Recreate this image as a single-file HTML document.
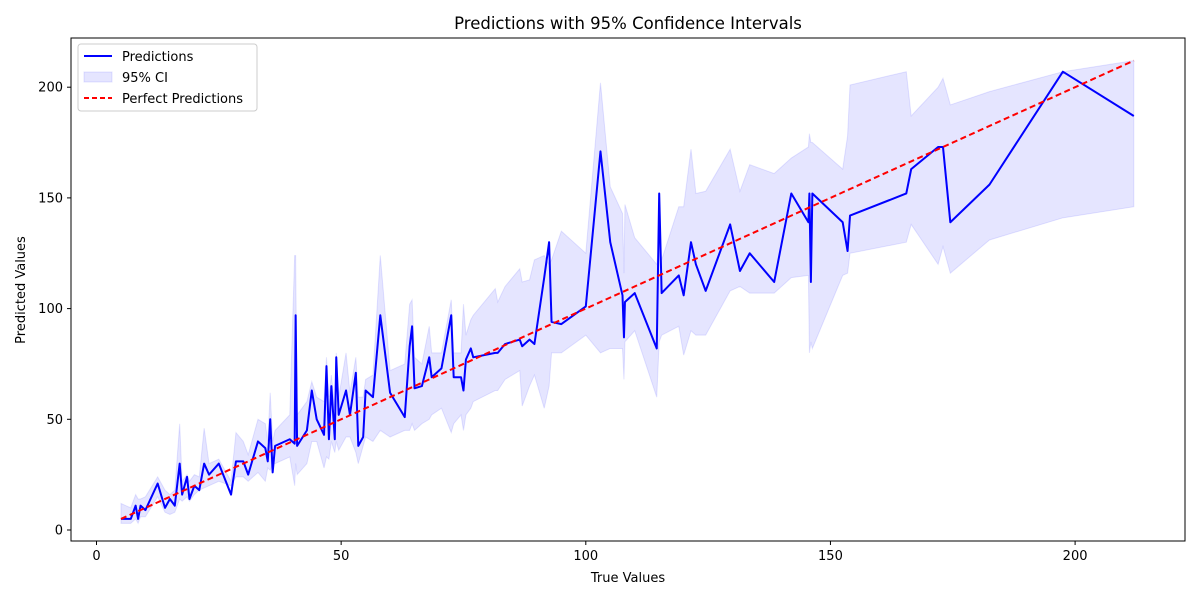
<!DOCTYPE html>
<html><head><meta charset="utf-8"><style>
body{margin:0;background:#fff;font-family:"DejaVu Sans",sans-serif}
svg text{font-family:"DejaVu Sans",sans-serif}
</style></head><body>
<svg id="chart" width="1200" height="600" xmlns="http://www.w3.org/2000/svg">
<rect width="1200" height="600" fill="#fff"/>
<text x="628" y="29" text-anchor="middle" font-size="16.5">Predictions with 95% Confidence Intervals</text>
<g id="plot"></g>
<rect x="71" y="38" width="1114" height="503" fill="none" stroke="#000" stroke-width="1"/>
<g id="axes"></g>
<text x="628" y="582" text-anchor="middle" font-size="13">True Values</text>
<text transform="translate(25,290) rotate(-90)" text-anchor="middle" font-size="13">Predicted Values</text>
<g>
<rect x="78" y="44" width="179" height="67" rx="3" fill="#fff" fill-opacity="0.8" stroke="#ccc"/>
<g><line x1="84" y1="56" x2="112" y2="56" stroke="#0000ff" stroke-width="2"/><text x="122" y="61" font-size="13">Predictions</text></g>
<g><rect x="84" y="72" width="28" height="10" fill="#0000ff" fill-opacity="0.1" stroke="#0000ff" stroke-opacity="0.1"/><text x="122" y="82" font-size="13">95% CI</text></g>
<g><line x1="84" y1="98" x2="112" y2="98" stroke="#ff0000" stroke-width="2" stroke-dasharray="5,3"/><text x="122" y="103" font-size="13">Perfect Predictions</text></g>
</g>
</svg>
<script>
const trueVals=[5,7,8,8.5,9,10,12.5,14,15,16,17,17.5,18.5,19,20,21,22,23,25,27.5,28.5,30,31,33,34.5,35,35.5,36,36.5,39.5,40.5,40.7,41,43,44,45,46.5,47,47.5,48,48.7,49,49.5,51,51.8,53,53.5,54.5,55,56.5,58,60,63,64,64.5,65,66.5,68,68.5,70.5,72.5,73,74.5,75,75.5,76.5,77,81.5,82,83.5,86.5,87,88.5,89.5,91.5,92.5,93,95,100,103,105,107.5,107.8,108,110,114.5,115,115.5,119,120,121.5,122.5,124.5,129.5,131.5,133.5,138.5,142,145.5,145.7,146,146.3,152.5,153.5,154,165.5,166.5,172,173,174.5,182.5,197.5,212];
const predVals=[5,5,11,5,11,9,21,10,14,11,30,16,24,14,20,18,30,25,30,16,31,31,25,40,37,31,50,26,38,41,39,97,38,45,63,50,43,74,41,65,41,78,52,63,52,71,38,42,63,60,97,62,51,83,92,64,65,78,69,73,97,69,69,63,77,82,78,80,80,84,86,83,86,84,114,130,94,93,101,171,130,106,87,103,107,82,152,107,115,106,130,120,108,138,117,125,112,152,139,152,112,152,139,126,142,152,163,173,173,139,156,207,187];
const loVals=[3,3,5,3,6,6,15,8,7,8,14,13,15,13,16,18,19,20,22,20,24,24,22,26,22,28,27,30,30,33,20,30,25,30,40,40,28,33,32,40,35,40,36,42,42,35,30,38,42,40,45,42,45,45,48,45,48,50,52,55,44,48,52,45,52,55,58,63,63,68,72,56,65,70,55,65,80,80,88,80,82,82,68,85,90,60,85,88,92,79,90,88,88,108,110,107,107,114,115,80,85,82,115,116,125,130,138,120,128,116,131,141,146];
const hiVals=[12,10,16,14,14,15,24,18,16,18,48,22,25,22,25,24,46,30,32,22,44,40,34,50,48,40,62,40,45,52,124,124,52,58,67,60,58,78,60,70,55,80,60,80,62,78,60,60,68,70,124,72,75,102,104,78,75,92,80,80,104,80,80,102,88,95,97,109,103,110,118,112,113,122,124,120,122,135,125,202,155,143,116,147,132,120,130,122,146,146,172,152,153,172,153,165,161,168,173,179,175,175,163,178,201,207,187,200,204,192,198,207,212];
const xTicks=[0,50,100,150,200];
const yTicks=[0,50,100,150,200];
const X=v=>96.5+v*4.893;
const Y=v=>530-v*2.214;
const NS='http://www.w3.org/2000/svg';
const plot=document.getElementById('plot'),axes=document.getElementById('axes');
function mk(t,a,p){const e=document.createElementNS(NS,t);for(const k in a)e.setAttribute(k,a[k]);p.appendChild(e);return e;}
let d='M'+trueVals.map((x,i)=>X(x)+','+Y(hiVals[i])).join('L');
for(let i=trueVals.length-1;i>=0;i--)d+='L'+X(trueVals[i])+','+Y(loVals[i]);
const band=mk('path',{d:d+'Z',fill:'#0000ff','fill-opacity':0.1,stroke:'#0000ff','stroke-opacity':0.1},plot);


const line=mk('polyline',{points:trueVals.map((x,i)=>X(x)+','+Y(predVals[i])).join(' '),fill:'none',stroke:'#0000ff','stroke-width':2,'stroke-linejoin':'round'},plot);


const mn=trueVals[0],mx=trueVals[trueVals.length-1];
const pl=mk('line',{x1:X(mn),y1:Y(mn),x2:X(mx),y2:Y(mx),stroke:'#ff0000','stroke-width':2,'stroke-dasharray':'6,3.5'},plot);


xTicks.forEach(t=>{const g=mk('g',{},axes);


mk('line',{x1:X(t),x2:X(t),y1:541,y2:545,stroke:'#000'},g);
const tx=mk('text',{x:X(t),y:560,'text-anchor':'middle','font-size':13},g);tx.textContent=t;});
yTicks.forEach(t=>{const g=mk('g',{},axes);


mk('line',{x1:67,x2:71,y1:Y(t),y2:Y(t),stroke:'#000'},g);
const tx=mk('text',{x:63,y:Y(t)+4.5,'text-anchor':'end','font-size':13},g);tx.textContent=t;});
</script>
</body></html>
